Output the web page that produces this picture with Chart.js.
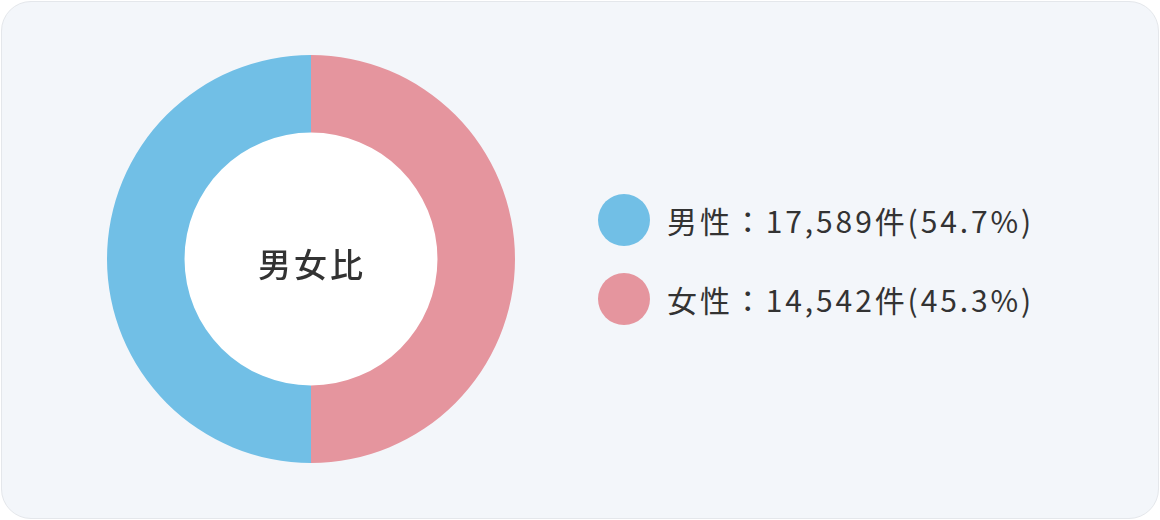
<!DOCTYPE html>
<html>
<head>
<meta charset="utf-8">
<script src="https://cdn.jsdelivr.net/npm/chart.js@4"></script>
<style>
  html, body { margin: 0; padding: 0; background: #ffffff; }
  body { width: 1160px; height: 520px; position: relative; overflow: hidden;
         font-family: "Noto Sans CJK JP", "Noto Sans", sans-serif; color: #333333; }
  #card { position: absolute; left: 1px; top: 1px; width: 1156px; height: 516px;
          background: #f3f6fa; border: 1px solid #e4e7eb; border-radius: 30px; }
  #chartBox { position: absolute; left: 107px; top: 55px; width: 408px; height: 408px; }
  #legend { position: absolute; left: 598px; top: 194px; }
  .item { display: flex; align-items: center; height: 52px; margin-bottom: 27px; }
  .dot { width: 52px; height: 52px; border-radius: 50%; margin-right: 17px; }
  .label { font-size: 30px; font-weight: 400; letter-spacing: 2.9px; line-height: 52px; }
</style>
</head>
<body>
<div id="card"></div>
<div id="chartBox"><canvas id="genderChart"></canvas></div>
<div id="legend"></div>
<script>
// data
const categories = ['男性', '女性'];
const counts = [17589, 14542];
const percents = ['54.7', '45.3'];
// the rings in the picture are drawn as two equal halves
const arcValues = [1, 1];
const colors = ['#71bfe6', '#e5959e'];
const centerLabel = '男女比';

// white hole + center text
const centerText = {
    id: 'centerText',
    beforeDatasetsDraw(chart) {
        const ctx = chart.ctx;
        const arc = chart.getDatasetMeta(0).data[0];
        ctx.save();
        ctx.beginPath();
        ctx.arc(arc.x, arc.y, arc.innerRadius + 1, 0, Math.PI * 2);
        ctx.fillStyle = '#ffffff';
        ctx.fill();
        ctx.restore();
    },
    afterDraw(chart) {
        const ctx = chart.ctx;
        const arc = chart.getDatasetMeta(0).data[0];
        ctx.save();
        ctx.font = '500 33px "Noto Sans CJK JP"';
        ctx.fillStyle = '#333333';
        ctx.textAlign = 'center';
        ctx.textBaseline = 'middle';
        ctx.letterSpacing = '3px';
        ctx.fillText(centerLabel, arc.x + 1, arc.y + 5);
        ctx.restore();
    }
};

const ctx = document.getElementById('genderChart').getContext('2d');
const genderChart = new Chart(ctx, {
    type: 'doughnut',
    data: {
        labels: categories,
        datasets: [{
            data: arcValues,
            backgroundColor: colors,
            borderWidth: 0
        }]
    },
    options: {
        responsive: true,
        maintainAspectRatio: false,
        animation: false,
        cutout: '62%',
        rotation: 180,
        layout: { padding: 0 },
        plugins: {
            legend: { display: false },
            tooltip: { enabled: false }
        }
    },
    plugins: [centerText]
});

// legend
const legend = document.getElementById('legend');
categories.forEach(function (cat, i) {
    const item = document.createElement('div');
    item.className = 'item';
    const dot = document.createElement('div');
    dot.className = 'dot';
    dot.style.background = colors[i];
    const label = document.createElement('div');
    label.className = 'label';
    label.textContent = cat + '：' + counts[i].toLocaleString('en-US') + '件(' + percents[i] + '%)';
    item.appendChild(dot);
    item.appendChild(label);
    legend.appendChild(item);
});
</script>
</body>
</html>
